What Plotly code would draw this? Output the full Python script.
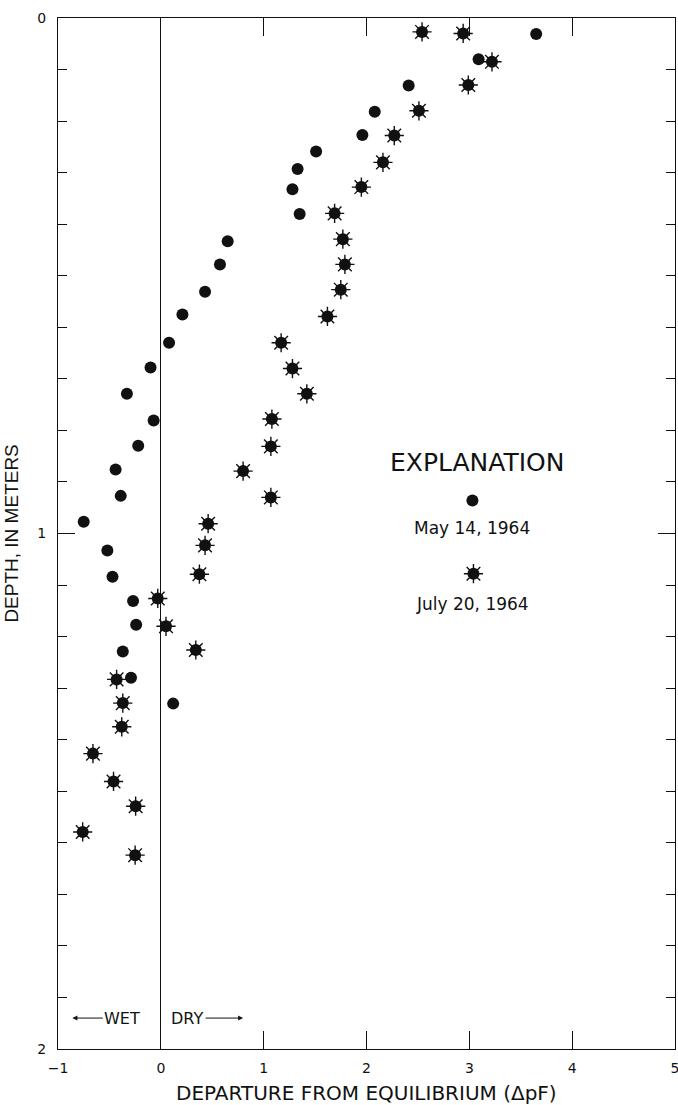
import plotly.graph_objects as go

# Departure from equilibrium (delta pF) and depth (m), May 14, 1964
may_dpf = [3.65, 3.09, 2.41, 2.08, 1.96, 1.51, 1.33, 1.28, 1.35, 0.65,
           0.575, 0.43, 0.21, 0.08, -0.10, -0.33, -0.07, -0.22, -0.44, -0.39,
           -0.75, -0.52, -0.47, -0.27, -0.24, -0.37, -0.29, 0.12]
may_depth = [0.031, 0.080, 0.131, 0.182, 0.227, 0.259, 0.293, 0.332, 0.380, 0.433,
             0.478, 0.531, 0.575, 0.630, 0.678, 0.729, 0.781, 0.830, 0.876, 0.927,
             0.977, 1.033, 1.084, 1.131, 1.177, 1.229, 1.280, 1.330]

# July 20, 1964
jul_dpf = [2.54, 2.94, 3.22, 2.99, 2.51, 2.27, 2.16, 1.95, 1.69, 1.77,
           1.79, 1.75, 1.62, 1.17, 1.28, 1.42, 1.08, 1.07, 0.80, 1.07,
           0.46, 0.43, 0.375, -0.03, 0.05, 0.34, -0.43, -0.37, -0.38, -0.66,
           -0.46, -0.245, -0.76, -0.25]
jul_depth = [0.027, 0.030, 0.085, 0.130, 0.180, 0.228, 0.280, 0.328, 0.379, 0.429,
             0.478, 0.527, 0.579, 0.630, 0.680, 0.729, 0.778, 0.831, 0.879, 0.930,
             0.981, 1.023, 1.079, 1.126, 1.180, 1.226, 1.283, 1.329, 1.375, 1.427,
             1.481, 1.529, 1.579, 1.624]

x_ticks = [-1, 0, 1, 2, 3, 4, 5]
y_ticks = [0, 1, 2]

SANS = "DejaVu Sans"
NARROW = "Liberation Sans"
INK = "#111111"


def add_dots(fig, xs, ys):
    fig.add_trace(go.Scatter(
        x=xs, y=ys, mode="markers", hoverinfo="skip",
        marker=dict(symbol="circle", size=12, color=INK, line=dict(width=0))))


def add_stars(fig, xs, ys):
    # filled core with eight short rays
    fig.add_trace(go.Scatter(
        x=xs, y=ys, mode="markers", hoverinfo="skip",
        marker=dict(symbol="asterisk-open", size=16, color=INK,
                    line=dict(width=1.4, color=INK))))
    fig.add_trace(go.Scatter(
        x=xs, y=ys, mode="markers", hoverinfo="skip",
        marker=dict(symbol="circle", size=12, color=INK, line=dict(width=0))))


fig = go.Figure()
add_dots(fig, may_dpf, may_depth)
add_stars(fig, jul_dpf, jul_depth)

# Explanation (key) symbols
add_dots(fig, [3.03], [0.936])
add_stars(fig, [3.04], [1.078])

fig.update_layout(
    width=678, height=1105,
    margin=dict(l=58, r=3, t=18, b=56),
    paper_bgcolor="white", plot_bgcolor="white",
    showlegend=False,
    font=dict(family=SANS, color=INK, size=14),
    xaxis=dict(
        range=[-1, 5], tickvals=x_ticks, automargin=False,
        ticks="inside", ticklen=18, tickwidth=1, tickcolor=INK,
        showline=True, linecolor=INK, linewidth=1, mirror="ticks",
        showgrid=False, zeroline=True, zerolinecolor=INK, zerolinewidth=1,
        ticklabelstandoff=6, ticklabeloverflow="allow",
        tickfont=dict(family=SANS, size=14, color=INK),
    ),
    yaxis=dict(
        range=[2, 0], tickvals=y_ticks, automargin=False,
        ticks="inside", ticklen=17, tickwidth=1, tickcolor=INK,
        showline=True, linecolor=INK, linewidth=1, mirror="ticks",
        showgrid=False, zeroline=False,
        ticklabelstandoff=8, ticklabeloverflow="allow",
        tickfont=dict(family=SANS, size=14, color=INK),
        minor=dict(dtick=0.1, ticks="inside", ticklen=9, tickwidth=1,
                   tickcolor=INK, showgrid=False),
    ),
)

annotations = [
    dict(text="DEPARTURE FROM EQUILIBRIUM (\u0394pF)", xref="paper", yref="paper",
         x=0.5, y=-0.043, xanchor="center", yanchor="middle", showarrow=False,
         font=dict(family=SANS, size=20, color=INK)),
    dict(text="DEPTH, IN METERS", xref="paper", yref="paper",
         x=-0.076, y=0.5, xanchor="center", yanchor="middle", showarrow=False,
         textangle=-90, font=dict(family=NARROW, size=19, color=INK)),
    dict(text="EXPLANATION", xref="x", yref="y", x=3.08, y=0.862,
         showarrow=False, font=dict(family=SANS, size=25, color=INK)),
    dict(text="May 14, 1964", xref="x", yref="y", x=3.03, y=0.990,
         showarrow=False, font=dict(family=SANS, size=17, color=INK)),
    dict(text="July 20, 1964", xref="x", yref="y", x=3.03, y=1.136,
         showarrow=False, font=dict(family=SANS, size=17, color=INK)),
    dict(text="WET", xref="x", yref="y", x=-0.375, y=1.94,
         showarrow=False, font=dict(family=SANS, size=16, color=INK)),
    dict(text="DRY", xref="x", yref="y", x=0.25, y=1.94,
         showarrow=False, font=dict(family=SANS, size=16, color=INK)),
    dict(text="", xref="x", yref="y", axref="x", ayref="y",
         x=-0.86, y=1.94, ax=-0.55, ay=1.94,
         showarrow=True, arrowhead=2, arrowsize=1, arrowwidth=1, arrowcolor=INK),
    dict(text="", xref="x", yref="y", axref="x", ayref="y",
         x=0.80, y=1.94, ax=0.42, ay=1.94,
         showarrow=True, arrowhead=2, arrowsize=1, arrowwidth=1, arrowcolor=INK),
]
fig.update_layout(annotations=annotations)

fig.write_html("out.html")
